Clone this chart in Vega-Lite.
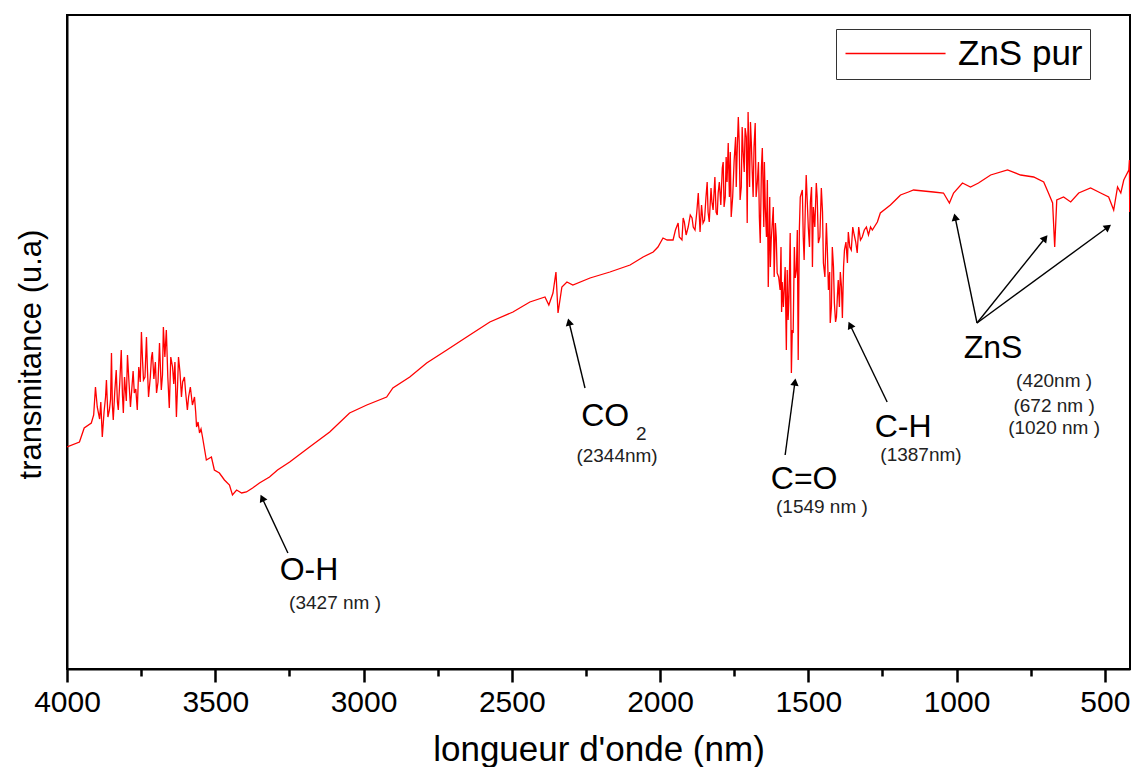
{
"$schema": "https://vega.github.io/schema/vega-lite/v6.json",
"width": 1063, "height": 654,
"autosize": {"type": "none"},
"padding": {"left": 67, "top": 15, "right": 2, "bottom": 98},
"background": "white",
"config": {"view": {"stroke": "black", "strokeWidth": 2}, "font": "Liberation Sans"},
"datasets": {
"spectrum": [
{"w":4000,"t":220},{"w":3958,"t":225},{"w":3942,"t":239},{"w":3918,"t":244},{"w":3904,"t":280},{"w":3898,"t":260},{"w":3881,"t":230},{"w":3867,"t":287},{"w":3857,"t":257},{"w":3850,"t":314},{"w":3844,"t":247},{"w":3834,"t":297},{"w":3827,"t":257},{"w":3817,"t":317},{"w":3810,"t":254},{"w":3796,"t":312},{"w":3786,"t":260},{"w":3773,"t":274},{"w":3763,"t":257},{"w":3749,"t":335},{"w":3742,"t":287},{"w":3732,"t":330},{"w":3725,"t":270},{"w":3712,"t":315},{"w":3698,"t":274},{"w":3688,"t":324},{"w":3682,"t":277},{"w":3675,"t":340},{"w":3665,"t":337},{"w":3655,"t":259},{"w":3644,"t":300},{"w":3631,"t":250},{"w":3624,"t":310},{"w":3614,"t":270},{"w":3604,"t":290},{"w":3594,"t":257},{"w":3584,"t":280},{"w":3570,"t":270},{"w":3563,"t":240},{"w":3553,"t":234},{"w":3543,"t":230},{"w":3530,"t":207},{"w":3513,"t":210},{"w":3503,"t":197},{"w":3486,"t":194},{"w":3469,"t":187},{"w":3452,"t":182},{"w":3442,"t":172},{"w":3428,"t":177},{"w":3411,"t":174},{"w":3395,"t":175},{"w":3374,"t":179},{"w":3351,"t":184},{"w":3317,"t":190},{"w":3290,"t":197},{"w":3249,"t":205},{"w":3182,"t":220},{"w":3114,"t":235},{"w":3047,"t":254},{"w":2989,"t":262},{"w":2922,"t":270},{"w":2901,"t":279},{"w":2844,"t":290},{"w":2787,"t":304},{"w":2719,"t":317},{"w":2652,"t":330},{"w":2574,"t":345},{"w":2496,"t":355},{"w":2439,"t":365},{"w":2388,"t":370},{"w":2375,"t":362},{"w":2361,"t":374},{"w":2351,"t":395},{"w":2344,"t":354},{"w":2331,"t":380},{"w":2314,"t":385},{"w":2294,"t":382},{"w":2236,"t":389},{"w":2169,"t":395},{"w":2101,"t":402},{"w":2057,"t":410},{"w":2023,"t":415},{"w":2007,"t":420},{"w":1990,"t":429},{"w":1976,"t":427},{"w":1956,"t":427},{"w":1939,"t":444},{"w":1926,"t":427},{"w":1922,"t":449},{"w":1905,"t":440},{"w":1892,"t":449},{"w":1882,"t":437},{"w":1871,"t":474},{"w":1865,"t":435},{"w":1855,"t":444},{"w":1841,"t":485},{"w":1834,"t":445},{"w":1828,"t":479},{"w":1821,"t":457},{"w":1807,"t":452},{"w":1804,"t":474},{"w":1790,"t":499},{"w":1784,"t":460},{"w":1774,"t":485},{"w":1770,"t":524},{"w":1760,"t":450},{"w":1750,"t":507},{"w":1740,"t":514},{"w":1736,"t":550},{"w":1730,"t":467},{"w":1720,"t":517},{"w":1713,"t":539},{"w":1706,"t":444},{"w":1703,"t":555},{"w":1692,"t":524},{"w":1686,"t":470},{"w":1679,"t":544},{"w":1672,"t":484},{"w":1662,"t":424},{"w":1655,"t":519},{"w":1645,"t":460},{"w":1638,"t":487},{"w":1635,"t":380},{"w":1625,"t":427},{"w":1611,"t":444},{"w":1605,"t":394},{"w":1595,"t":377},{"w":1588,"t":385},{"w":1584,"t":360},{"w":1581,"t":380},{"w":1574,"t":317},{"w":1571,"t":397},{"w":1568,"t":347},{"w":1561,"t":434},{"w":1557,"t":294},{"w":1554,"t":337},{"w":1551,"t":334},{"w":1544,"t":389},{"w":1540,"t":397},{"w":1537,"t":437},{"w":1534,"t":307},{"w":1530,"t":439},{"w":1520,"t":477},{"w":1514,"t":407},{"w":1507,"t":492},{"w":1500,"t":440},{"w":1493,"t":465},{"w":1486,"t":400},{"w":1483,"t":460},{"w":1473,"t":484},{"w":1466,"t":424},{"w":1456,"t":479},{"w":1449,"t":404},{"w":1439,"t":444},{"w":1432,"t":377},{"w":1426,"t":344},{"w":1419,"t":420},{"w":1412,"t":364},{"w":1405,"t":350},{"w":1399,"t":387},{"w":1392,"t":395},{"w":1385,"t":349},{"w":1378,"t":417},{"w":1368,"t":404},{"w":1365,"t":435},{"w":1355,"t":417},{"w":1345,"t":432},{"w":1335,"t":414},{"w":1324,"t":427},{"w":1311,"t":437},{"w":1297,"t":432},{"w":1284,"t":437},{"w":1267,"t":445},{"w":1257,"t":454},{"w":1223,"t":462},{"w":1199,"t":469},{"w":1189,"t":472},{"w":1162,"t":475},{"w":1145,"t":477},{"w":1078,"t":475},{"w":1044,"t":474},{"w":1024,"t":464},{"w":1010,"t":474},{"w":980,"t":484},{"w":953,"t":480},{"w":926,"t":484},{"w":885,"t":492},{"w":828,"t":497},{"w":784,"t":492},{"w":740,"t":490},{"w":706,"t":485},{"w":690,"t":474},{"w":676,"t":464},{"w":669,"t":420},{"w":662,"t":467},{"w":639,"t":470},{"w":615,"t":465},{"w":588,"t":474},{"w":548,"t":479},{"w":514,"t":474},{"w":487,"t":470},{"w":470,"t":457},{"w":457,"t":480},{"w":446,"t":474},{"w":436,"t":487},{"w":419,"t":497},{"w":417,"t":507},{"w":416,"t":455},
{"w":3910,"t":252},{"w":3890,"t":248},{"w":3886,"t":265},{"w":3875,"t":255},{"w":3870,"t":270},{"w":3862,"t":250},{"w":3853,"t":268},{"w":3847,"t":262},{"w":3839,"t":275},{"w":3830,"t":265},{"w":3822,"t":285},{"w":3813,"t":272},{"w":3806,"t":290},{"w":3800,"t":266},{"w":3791,"t":285},{"w":3781,"t":280},{"w":3777,"t":296},{"w":3768,"t":278},{"w":3758,"t":300},{"w":3753,"t":285},{"w":3745,"t":305},{"w":3737,"t":290},{"w":3729,"t":300},{"w":3719,"t":290},{"w":3715,"t":310},{"w":3707,"t":288},{"w":3702,"t":305},{"w":3693,"t":285},{"w":3685,"t":300},{"w":3678,"t":292},{"w":3670,"t":310},{"w":3660,"t":290},{"w":3650,"t":310},{"w":3640,"t":283},{"w":3636,"t":305},{"w":3627,"t":282},{"w":3619,"t":295},{"w":3610,"t":285},{"w":3600,"t":275},{"w":3590,"t":270},{"w":3577,"t":262},{"w":3566,"t":255},{"w":3558,"t":245},{"w":3548,"t":238},
{"w":1948,"t":437},{"w":1935,"t":430},{"w":1918,"t":445},{"w":1912,"t":432},{"w":1898,"t":452},{"w":1888,"t":440},{"w":1876,"t":455},{"w":1860,"t":462},{"w":1850,"t":447},{"w":1845,"t":470},{"w":1838,"t":455},{"w":1825,"t":465},{"w":1815,"t":490},{"w":1811,"t":455},{"w":1800,"t":485},{"w":1795,"t":462},{"w":1787,"t":505},{"w":1780,"t":470},{"w":1777,"t":510},{"w":1766,"t":470},{"w":1763,"t":515},{"w":1755,"t":470},{"w":1745,"t":530},{"w":1743,"t":480},{"w":1733,"t":525},{"w":1726,"t":480},{"w":1723,"t":540},{"w":1716,"t":495},{"w":1709,"t":530},{"w":1698,"t":480},{"w":1695,"t":545},{"w":1689,"t":495},{"w":1683,"t":520},{"w":1676,"t":470},{"w":1668,"t":505},{"w":1665,"t":450},{"w":1658,"t":500},{"w":1650,"t":440},{"w":1648,"t":505},{"w":1641,"t":430},{"w":1630,"t":470},{"w":1628,"t":400},{"w":1618,"t":460},{"w":1615,"t":390},{"w":1608,"t":430},{"w":1600,"t":390},{"w":1592,"t":420},{"w":1590,"t":355},{"w":1578,"t":400},{"w":1565,"t":370},{"w":1547,"t":420},{"w":1527,"t":470},{"w":1517,"t":430},
{"w":1510,"t":460},{"w":1496,"t":420},{"w":1489,"t":480},{"w":1478,"t":440},{"w":1470,"t":470},{"w":1461,"t":430},{"w":1452,"t":455},{"w":1444,"t":390},{"w":1436,"t":420},{"w":1428,"t":395},{"w":1422,"t":360},{"w":1415,"t":400},{"w":1408,"t":345},{"w":1402,"t":370},{"w":1395,"t":360},{"w":1388,"t":380},{"w":1381,"t":400},{"w":1373,"t":425},{"w":1360,"t":420},{"w":1350,"t":440},{"w":1340,"t":425},{"w":1330,"t":440},{"w":1318,"t":430},{"w":1304,"t":440},{"w":1290,"t":440}
],
"arrows": [
{"tx":3255,"ty":114,"hx":3342,"hy":169},
{"tx":2253,"ty":279,"hx":2307,"hy":345},
{"tx":1578,"ty":212,"hx":1545,"hy":285},
{"tx":1234,"ty":265,"hx":1359,"hy":342},
{"tx":931,"ty":344,"hx":1005,"hy":450},
{"tx":931,"ty":344,"hx":701,"hy":429},
{"tx":931,"ty":344,"hx":489,"hy":440}
],
"labels": [
{"w":3184,"t":97,"label":"O-H"},
{"w":2185,"t":251,"label":"CO"},
{"w":1514,"t":188,"label":"C=O"},
{"w":1180,"t":240,"label":"C-H"},
{"w":877,"t":319,"label":"ZnS"}
],
"notes": [
{"w":3096,"t":64,"label":"(3427 nm )"},
{"w":2063,"t":233,"label":"2"},
{"w":2145,"t":211,"label":"(2344nm)"},
{"w":1454,"t":160,"label":"(1549 nm )"},
{"w":1120,"t":212,"label":"(1387nm)"},
{"w":671,"t":286,"label":"(420nm )"},
{"w":671,"t":261,"label":"(672 nm )"},
{"w":671,"t":239,"label":"(1020 nm )"}
]
},
"layer": [
{
"data": {"name": "spectrum"},
"mark": {"type": "line", "strokeWidth": 1.3, "clip": true},
"encoding": {
"x": {"field": "w", "type": "quantitative",
"scale": {"domain": [415, 4000], "reverse": true, "nice": false, "zero": false},
"axis": {"values": [4000,3750,3500,3250,3000,2750,2500,2250,2000,1750,1500,1250,1000,750,500],
"format": "d", "labelExpr": "datum.value % 500 == 0 ? datum.label : ''",
"tickSize": {"condition": {"test": "datum.value % 500 != 0", "value": 7}, "value": 13},
"tickWidth": 2.5, "tickColor": "black", "domainColor": "black", "domainWidth": 2,
"labelFontSize": 30, "labelColor": "black", "labelPadding": 5, "labelFlush": false, "labelOverlap": false,
"grid": false, "title": "longueur d'onde (nm)", "titleFontSize": 35, "titleFontWeight": "normal",
"titleColor": "black", "titleY": 91, "titleBaseline": "alphabetic"}},
"y": {"field": "t", "type": "quantitative",
"scale": {"domain": [-2, 652], "nice": false, "zero": false},
"axis": {"ticks": false, "labels": false, "domain": true, "domainColor": "black", "domainWidth": 2, "grid": false,
"title": "transmitance (u.a)", "titleFontSize": 31, "titleFontWeight": "normal", "titleColor": "black",
"titleX": -36, "titleY": 339, "titleAngle": -90, "titleAlign": "center", "titleBaseline": "middle"}},
"color": {"datum": "ZnS pur", "type": "nominal", "scale": {"range": ["#ff0000"]},
"legend": {"orient": "none", "legendX": 769, "legendY": 14, "title": null, "symbolType": "M-1,0H5.67",
"symbolSize": 900, "symbolStrokeWidth": 1.5, "labelFontSize": 35, "labelColor": "black",
"strokeColor": "#333", "fillColor": "white", "padding": 7, "labelOffset": 80}}
}
},
{
"data": {"name": "arrows"},
"mark": {"type": "rule", "color": "black", "strokeWidth": 1.4},
"encoding": {
"x": {"field": "tx", "type": "quantitative"},
"y": {"field": "ty", "type": "quantitative"},
"x2": {"field": "hx"}, "y2": {"field": "hy"}
}
},
{
"data": {"name": "arrows"},
"transform": [{"calculate": "atan2(-(datum.hx - datum.tx) * 0.2965, datum.hy - datum.ty) * 180 / PI", "as": "ang"}],
"mark": {"type": "point", "shape": "triangle-up", "filled": true, "color": "black", "size": 70, "opacity": 1},
"encoding": {
"x": {"field": "hx", "type": "quantitative"},
"y": {"field": "hy", "type": "quantitative"},
"angle": {"field": "ang", "type": "quantitative", "scale": null}
}
},
{
"data": {"name": "labels"},
"mark": {"type": "text", "fontSize": 32, "color": "black", "align": "center", "baseline": "middle"},
"encoding": {
"x": {"field": "w", "type": "quantitative"},
"y": {"field": "t", "type": "quantitative"},
"text": {"field": "label"}
}
},
{
"data": {"name": "notes"},
"mark": {"type": "text", "fontSize": 19, "color": "#222", "align": "center", "baseline": "middle"},
"encoding": {
"x": {"field": "w", "type": "quantitative"},
"y": {"field": "t", "type": "quantitative"},
"text": {"field": "label"}
}
}
]
}
